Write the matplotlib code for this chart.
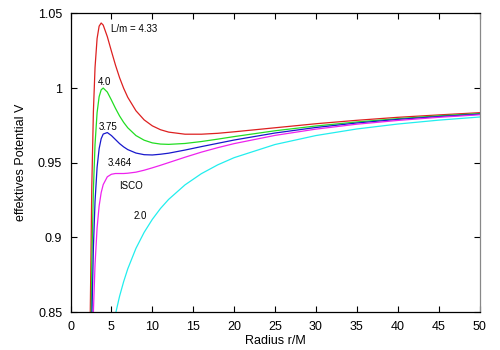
import matplotlib
matplotlib.use("Agg")
import matplotlib.pyplot as plt

plt.rcParams['font.family'] = ['Liberation Sans', 'DejaVu Sans']

# Radius-Stützstellen (r/M)
radius = [2.2, 2.4, 2.6, 2.8, 3.0, 3.25, 3.5, 3.75, 4.0, 4.5, 5, 5.5, 6, 6.5, 7,
          8, 9, 10, 11, 12, 14, 16, 18, 20, 25, 30, 35, 40, 45, 50]

# effektives Potential V für die einzelnen Drehimpulse L/m
v_433 = [0.6657, 0.8421, 0.9332, 0.9844, 1.0138, 1.0331, 1.0414, 1.0435, 1.0421, 1.0344,
         1.0247, 1.0153, 1.0069, 0.9998, 0.9938, 0.9848, 0.9787, 0.9747, 0.9721, 0.9705,
         0.9691, 0.9691, 0.9697, 0.9707, 0.9734, 0.9761, 0.9784, 0.9804, 0.9820, 0.9835]
v_40 = [0.6257, 0.7935, 0.8815, 0.9321, 0.9623, 0.9835, 0.9942, 0.9988, 1.0000, 0.9973,
        0.9920, 0.9864, 0.9813, 0.9770, 0.9734, 0.9682, 0.9651, 0.9633, 0.9625, 0.9623,
        0.9629, 0.9642, 0.9658, 0.9675, 0.9714, 0.9746, 0.9773, 0.9795, 0.9814, 0.9829]
v_375 = [0.5959, 0.7573, 0.8431, 0.8934, 0.9242, 0.9469, 0.9594, 0.9661, 0.9692, 0.9702,
         0.9682, 0.9655, 0.9628, 0.9606, 0.9588, 0.9565, 0.9554, 0.9552, 0.9557, 0.9564,
         0.9585, 0.9608, 0.9630, 0.9652, 0.9699, 0.9736, 0.9766, 0.9790, 0.9809, 0.9825]
v_3464 = [0.5624, 0.7169, 0.8003, 0.8503, 0.8819, 0.9064, 0.9211, 0.9300, 0.9354, 0.9406,
          0.9423, 0.9428, 0.9428, 0.9428, 0.9430, 0.9437, 0.9450, 0.9466, 0.9483, 0.9501,
          0.9537, 0.9571, 0.9601, 0.9628, 0.9683, 0.9725, 0.9758, 0.9783, 0.9804, 0.9821]

radius_2 = [4.5, 5, 5.5, 6, 6.5, 7, 8, 9, 10, 11, 12, 14, 16, 18, 20, 25, 30, 35, 40, 45, 50]
v_20 = [0.8157, 0.8343, 0.8488, 0.8607, 0.8705, 0.8790, 0.8927, 0.9034, 0.9121, 0.9194,
        0.9255, 0.9352, 0.9427, 0.9486, 0.9534, 0.9622, 0.9682, 0.9726, 0.9759, 0.9785, 0.9806]

# Beschriftungen im Diagramm
labels = ["L/m = 4.33", "4.0", "3.75", "3.464", "ISCO", "2.0"]
label_x = [4.9, 3.4, 3.5, 4.6, 6.0, 7.7]
label_y = [1.0393, 1.004, 0.974, 0.9495, 0.9343, 0.9142]

xticks = [0, 5, 10, 15, 20, 25, 30, 35, 40, 45, 50]
yticks = [0.85, 0.9, 0.95, 1.0, 1.05]
ytick_labels = ["0.85", "0.9", "0.95", "1", "1.05"]

fig = plt.figure(figsize=(5, 3.5), dpi=100)
ax = fig.add_axes([0.141, 0.108, 0.818, 0.854])

lw = 0.9
ax.plot(radius, v_433, color="#dd2020", lw=lw)
ax.plot(radius, v_40, color="#22dd22", lw=lw)
ax.plot(radius, v_375, color="#1818cc", lw=lw)
ax.plot(radius, v_3464, color="#ee22ee", lw=lw)
ax.plot(radius_2, v_20, color="#22eeee", lw=lw)

for t, x, y in zip(labels, label_x, label_y):
    ax.text(x, y, t, fontsize=7, ha="left", va="center")

ax.set_xlim(0, 50)
ax.set_ylim(0.85, 1.05)
ax.set_xticks(xticks)
ax.set_yticks(yticks)
ax.set_yticklabels(ytick_labels)
ax.tick_params(direction="in", length=4, width=0.8, top=True, right=True,
               labelsize=9, pad=6)
for s in ax.spines.values():
    s.set_linewidth(0.9)
ax.spines["right"].set_color("#888888")

ax.set_xlabel("Radius r/M", fontsize=9, labelpad=2)
ax.set_ylabel("effektives Potential V", fontsize=9, labelpad=8)

fig.savefig("out.png", dpi=100)
